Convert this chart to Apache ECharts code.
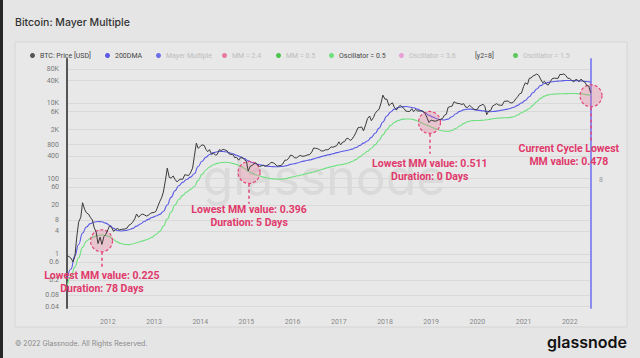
<!DOCTYPE html>
<html><head><meta charset="utf-8">
<script src="https://cdn.jsdelivr.net/npm/echarts@6/dist/echarts.min.js"></script>
<style>html,body{margin:0;padding:0;background:#e5e5e5;}#c{width:640px;height:358px;}</style>
</head><body><div id="c"></div>
<script>
// ---------- data ----------
const firstYear = 2011;
// BTC price, semi-monthly (1st & 15th); 2011 starts Feb 15, 2022 ends Jun 15
const priceByYear = [
  [0.9, 0.85,0.78, 0.62,0.85, 3.0,7.0, 9.5,23, 15.5,12.5, 11.5,9.5, 8.0,5.0, 3.8,1.9, 2.8,1.8, 2.9,3.3],
  [4.4,5.6, 5.0,4.0, 4.4,4.8, 4.4,4.5, 4.6,4.6, 4.9,5.8, 6.2,7.0, 8.6,11.5, 9.5,10.8, 11.5,11.0, 10.2,10.6, 11.8,12.5],
  [12.7,13.6, 19,25, 31,44, 93,190, 108,104, 118,96, 82,92, 98,96, 128,124, 122,142, 190,390, 880,640],
  [720,790, 760,600, 520,590, 440,480, 420,440, 590,560, 600,580, 550,460, 440,440, 360,370, 310,360, 360,320],
  [290,160, 215,225, 245,265, 230,210, 220,225, 212,225, 245,270, 265,245, 215,220, 225,245, 310,310, 345,420],
  [410,360, 355,385, 415,395, 395,410, 430,435, 510,650, 640,630, 590,545, 545,580, 585,610, 700,680, 720,750],
  [950,790, 940,960, 1150,1180, 1030,1120, 1350,1650, 2250,2300, 2350,1850, 2700,3900, 4600,3450, 4150,5400, 6400,6900, 10300,16500],
  [12800,13000, 8700,9600, 10300,7900, 6600,7900, 8800,8100, 7200,6200, 6100,6100, 7200,6000, 6900,6200, 6300,6300, 6100,5300, 4000,3100],
  [3600,3450, 3350,3450, 3650,3750, 3950,4800, 5100,7800, 8200,8400, 11000,10300, 9900,9800, 9300,9800, 7900,7800, 8800,8100, 7100,6800],
  [6900,8400, 8900,9500, 8200,5000, 6300,6400, 8500,9000, 9800,9100, 8900,8800, 11300,11400, 11500,10400, 10200,11000, 13200,15000, 18000,18600],
  [28000,35000, 32000,46000, 47000,53000, 56000,60000, 55000,44000, 35000,38500, 32000,30500, 38000,45000, 46500,46000, 46000,58500, 58000,60500, 54500,46500],
  [45500,41000, 37000,42500, 42300,37500, 44000,38500, 36500,29800, 28500,19000]
];
// 200DMA, monthly (15th); 2011 starts Feb, 2022 ends Jun
const dmaByYear = [
  [0.22,0.4,0.9,1.8,3.6,5.2,6.4,7.1,7.3,7.2,6.6],
  [5.8,4.8,4.2,4.1,4.2,4.4,4.8,5.5,6.3,7.3,8.3,9.3],
  [10.2,11.3,13.5,20,32,48,65,80,95,110,135,210],
  [290,370,440,490,520,530,520,495,460,420,380,340],
  [300,270,250,235,225,215,210,208,208,212,222,240],
  [250,265,285,300,315,335,360,385,410,435,460,490],
  [520,545,570,610,670,760,880,1000,1250,1600,2200,3200],
  [4600,5900,7000,7700,8100,8200,8000,7600,7000,6300,5600,4800],
  [4300,3900,3700,3600,3800,4400,5300,6100,6700,7000,7000,6700],
  [6500,6300,6100,6000,6100,6300,6600,6900,7300,7900,8800,10200],
  [12000,15000,19000,24000,29500,33500,36000,37500,38500,39000,40000,40500],
  [40500,40000,39500,39000,38000,36500]
];
// Oscillator = 0.5, monthly (15th)
const oscByYear = [
  [0.15,0.25,0.45,0.8,1.5,2.2,2.6,2.9,3.1,3.25,3.1],
  [2.9,2.4,2.1,1.9,1.8,1.78,1.85,2.0,2.15,2.3,2.5,2.8],
  [3.3,4.0,5.5,8.5,13,20,28,36,44,52,62,90],
  [130,170,205,235,255,268,272,268,255,238,215,190],
  [158,140,127,118,110,104,100,98,97,98,102,108],
  [114,120,127,135,142,150,162,175,188,200,212,225],
  [235,245,260,285,320,380,450,530,640,800,1050,1450],
  [2000,2600,3100,3500,3750,3850,3850,3700,3400,3050,2750,2500],
  [2250,2050,1900,1820,1800,1900,2150,2500,2900,3250,3450,3500],
  [3500,3550,3650,3800,3950,4050,4100,4150,4200,4400,4900,5600],
  [6300,7300,8800,11000,13500,15500,16800,17400,17700,17900,18000,18100],
  [18200,18200,18000,17600,17000,16200]
];
const xRange = ['2011-02-12', '2022-06-18'];
const yearLabels = [2012,2013,2014,2015,2016,2017,2018,2019,2020,2021,2022];
const yTicks = [0.04,0.08,0.2,0.6,1,4,8,20,60,100,400,800,2000,6000,10000,40000,80000];
const yRange = [0.037, 150000];
const y2Ticks = [8];
const y2Range = [0, 15.6];
// annotations (data coordinates)
const lowDates   = ['2011-11-12','2015-01-22','2018-12-19','2022-06-18'];
const lowValues  = [2.25, 146, 3110, 15900];
const stemTop    = [1.15, 73.5, 1560, 7740];
const stemBottom = [0.41, 21.6, 459, 957];
const noteDates  = ['2011-11-15','2015-01-22','2018-12-21','2021-12-25'];
const noteValues = [0.179, 10.1, 170, 434];
const noteTexts  = [
  'Lowest MM value: 0.225\nDuration: 78 Days',
  'Lowest MM value: 0.396\nDuration: 5 Days',
  'Lowest MM value: 0.511\nDuration: 0 Days',
  'Current Cycle Lowest\nMM value: 0.478'
];
const legendNames = ['BTC: Price [USD]','200DMA','Mayer Multiple','MM = 2.4','MM = 0.5','Oscillator = 0.5','Oscillator = 3.6','[y2=8]','Oscillator = 1.5'];

// ---------- helpers ----------
function ts(s){ const p = s.split('-').map(Number); return Date.UTC(p[0], p[1]-1, p[2]); }
function semiMonthly(y){ const o=[]; for(let m=0;m<12;m++){ o.push(Date.UTC(y,m,1)); o.push(Date.UTC(y,m,15)); } return o; }
function monthly(y){ const o=[]; for(let m=0;m<12;m++) o.push(Date.UTC(y,m,15)); return o; }
function build(rows, gen){
  const pts = [];
  rows.forEach((vals, i) => {
    const all = gen(firstYear + i);
    const ds = i === 0 ? all.slice(all.length - vals.length) : all.slice(0, vals.length);
    vals.forEach((v, j) => pts.push([ds[j], v]));
  });
  return pts;
}
const pink = '#e03a6c';
const FONT = 'Roboto, "Noto Sans", sans-serif';

const circleItems = lowDates.map((d, i) => ({
  coord: [ts(d), lowValues[i]], symbol: 'circle', symbolSize: 22,
  itemStyle: { color: 'rgba(232,112,150,0.30)', borderColor: '#e3457a', borderWidth: 1.2, borderType: [3, 2] },
  label: { show: false }
}));
const noteItems = noteDates.map((d, i) => ({
  coord: [ts(d), noteValues[i]], symbol: 'circle', symbolSize: 0,
  label: { show: true, position: 'inside', formatter: noteTexts[i], color: pink, fontWeight: 'bold',
           fontSize: 10.5, lineHeight: 13, fontFamily: FONT, align: 'center' }
}));
const stemItems = lowDates.map((d, i) => [
  { coord: [ts(d), stemTop[i]] }, { coord: [ts(d), stemBottom[i]] }
]);

const legendStyle = [
  { left: 30,  color: '#444', icon: '#555' },
  { left: 105, color: '#444', icon: '#5a5ae6' },
  { left: 156, color: '#bdbdbd', icon: '#6e6ee8' },
  { left: 222, color: '#bdbdbd', icon: '#e57aa3' },
  { left: 276, color: '#bdbdbd', icon: '#4cc44c' },
  { left: 329, color: '#444', icon: '#6ee07e' },
  { left: 399, color: '#bdbdbd', icon: '#e6a0d6' },
  { left: 465, color: '#444', icon: 'rgba(0,0,0,0)' },
  { left: 513, color: '#bdbdbd', icon: '#5cc85c' }
];
const legends = legendNames.map((n, i) => ({
  left: legendStyle[i].left, top: 52, padding: 0, itemWidth: 5, itemHeight: 5, icon: 'circle',
  selectedMode: false, data: [{ name: n, itemStyle: { color: legendStyle[i].icon } }],
  textStyle: { fontSize: 7, color: legendStyle[i].color, fontFamily: FONT }
}));

const emptySeries = legendNames.filter((n, i) => ![0,1,5].includes(i)).map(n => ({
  name: n, type: 'line', data: [], yAxisIndex: 0
}));

const chart = echarts.init(document.getElementById('c'), null, { renderer: 'svg' });
chart.setOption({
  backgroundColor: '#e5e5e5',
  animation: false,
  textStyle: { fontFamily: FONT },
  legend: legends,
  grid: { left: 67, right: 49, top: 59, bottom: 50 },
  xAxis: {
    type: 'value', min: ts(xRange[0]), max: ts(xRange[1]),
    axisLine: { show: false }, axisTick: { show: false, customValues: yearLabels.map(y => Date.UTC(y,0,1)) },
    splitLine: { show: false },
    axisLabel: { customValues: yearLabels.map(y => Date.UTC(y,0,1)), formatter: v => String(new Date(v).getUTCFullYear()),
                 color: '#888', fontSize: 7, margin: 10, fontFamily: FONT }
  },
  yAxis: [{
    type: 'log', logBase: 10, min: yRange[0], max: yRange[1],
    axisLine: { show: true, lineStyle: { color: '#555', width: 2 } },
    axisTick: { show: false, customValues: yTicks },
    axisLabel: { customValues: yTicks, color: '#7a7a7a', fontSize: 7, margin: 8, fontFamily: FONT,
      formatter: v => { const r = +(+v).toPrecision(6); return r >= 1000 ? (r/1000) + 'K' : String(r); } },
    splitLine: { show: true, lineStyle: { color: '#d9d9d9', width: 1 } }
  }, {
    type: 'value', position: 'right', min: y2Range[0], max: y2Range[1],
    axisLine: { show: true, lineStyle: { color: '#8c8cf0', width: 2 } },
    axisTick: { show: false, customValues: y2Ticks },
    axisLabel: { customValues: y2Ticks, color: '#999', fontSize: 7, margin: 8, fontFamily: FONT },
    splitLine: { show: false }
  }],
  series: [
    { name: 'Oscillator = 0.5', type: 'line', data: build(oscByYear, monthly), showSymbol: false,
      smooth: true, smoothMonotone: 'x', color: '#6ee07e', lineStyle: { width: 1.1, color: '#6ee07e' }, z: 3 },
    { name: '200DMA', type: 'line', data: build(dmaByYear, monthly), showSymbol: false,
      smooth: true, smoothMonotone: 'x', color: '#5a5ae6', lineStyle: { width: 1.1, color: '#5a5ae6' }, z: 4 },
    { name: 'BTC: Price [USD]', type: 'line', data: build(priceByYear, semiMonthly), showSymbol: false,
      color: '#444', lineStyle: { width: 1, color: '#3a3a3a' }, z: 5,
      markPoint: { silent: true, data: circleItems.concat(noteItems) },
      markLine: { silent: true, symbol: ['none','none'], label: { show: false },
        lineStyle: { color: '#e3457a', type: [3, 3], width: 1.5 }, data: stemItems }
    }
  ].concat(emptySeries),
  graphic: [
    { type: 'rect', shape: { x: 0, y: 0, width: 3, height: 358 }, style: { fill: '#262626' }, z: 10 },
    { type: 'rect', shape: { x: 15, y: 42, width: 612, height: 285 }, style: { fill: '#e8e8e8', stroke: '#d6d6d6', lineWidth: 1 }, z: -100 },
    { type: 'text', x: 324, y: 177, z: -50, style: { text: 'glassnode', fill: '#dadada', font: '400 50px Inter', textAlign: 'center', textVerticalAlign: 'middle' } },
    { type: 'text', x: 15, y: 22, style: { text: 'Bitcoin: Mayer Multiple', fill: '#333', font: '500 10.5px Inter', textVerticalAlign: 'middle' } },
    { type: 'text', x: 15, y: 343, style: { text: '© 2022 Glassnode. All Rights Reserved.', fill: '#8a8a8a', font: '7px Inter', textVerticalAlign: 'middle' } },
    { type: 'text', x: 627, y: 342, style: { text: 'glassnode', fill: '#111', font: '600 16px Inter', textAlign: 'right', textVerticalAlign: 'middle' } }
  ]
});
</script></body></html>
